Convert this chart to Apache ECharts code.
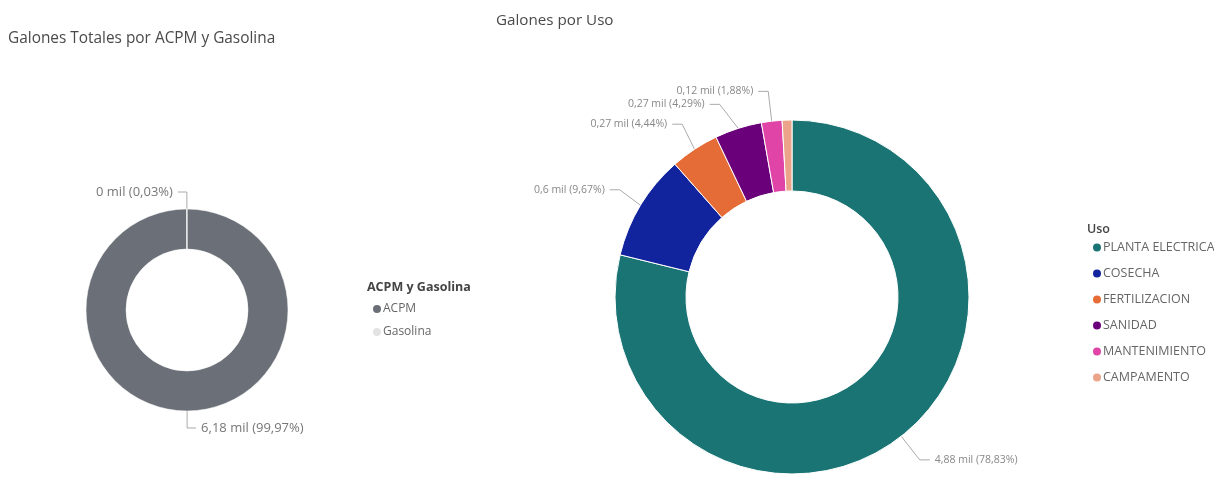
<!DOCTYPE html>
<html>
<head>
<meta charset="utf-8">
<script src="https://cdn.jsdelivr.net/npm/echarts@6/dist/echarts.min.js"></script>
<style>
html,body{margin:0;padding:0;background:#fff;}
#chart{width:1214px;height:481px;}
</style>
</head>
<body>
<div id="chart"></div>
<script>
// ---- data ----
const tipoCategorias = ['ACPM', 'Gasolina'];
const tipoGalones = [6180, 1.85];
const usoCategorias = ['PLANTA ELECTRICA', 'COSECHA', 'FERTILIZACION', 'SANIDAD', 'MANTENIMIENTO', 'CAMPAMENTO'];
const usoGalones = [4880, 598.6, 274.8, 265.6, 116.4, 55.1];

const tipoColores = ['#6b7078', '#e3e3e3'];
const usoColores = ['#1b7474', '#12239e', '#e66c37', '#6b007b', '#e044a7', '#eba48a'];

function fmtMil(v) {
  const n = Math.round(v / 10) / 100;
  return String(n).replace('.', ',') + ' mil';
}
function fmtPct(v, total) {
  return (v / total * 100).toFixed(2).replace('.', ',') + '%';
}
const tipoTotal = tipoGalones.reduce((a, b) => a + b, 0);
const usoTotal = usoGalones.reduce((a, b) => a + b, 0);

const chart = echarts.init(document.getElementById('chart'));
const font = '"Open Sans"';
const labelFont = '"Open Sans"';

chart.setOption({
  animation: false,
  title: [
    { text: 'Galones Totales por ACPM y Gasolina', left: 3, top: 26,
      textStyle: { fontFamily: font, fontSize: 15.4, fontWeight: 'normal', color: '#4a4a4a' } },
    { text: 'Galones por Uso', left: 491, top: 8,
      textStyle: { fontFamily: font, fontSize: 15.2, fontWeight: 'normal', color: '#4a4a4a' } },
    { text: 'ACPM y Gasolina', left: 362, top: 276,
      textStyle: { fontFamily: labelFont, fontSize: 12.5, fontWeight: 'bold', color: '#444' } },
    { text: 'Uso', left: 1082, top: 218,
      textStyle: { fontFamily: labelFont, fontSize: 12.5, fontWeight: 600, color: '#444' } }
  ],
  legend: [
    { data: tipoCategorias, orient: 'vertical', left: 366, top: 298, itemGap: 11,
      icon: 'circle', itemWidth: 10, itemHeight: 10,
      textStyle: { fontFamily: labelFont, fontSize: 12, color: '#666', padding: [0, 0, 0, -4] } },
    { data: usoCategorias, orient: 'vertical', left: 1086, top: 236, itemGap: 13,
      icon: 'circle', itemWidth: 10, itemHeight: 10,
      textStyle: { fontFamily: labelFont, fontSize: 12.5, color: '#666', padding: [0, 0, 0, -4] } }
  ],
  series: [
    {
      type: 'pie', name: 'ACPM y Gasolina',
      center: [187, 310], radius: [61, 101], startAngle: 90, clockwise: true,
      color: tipoColores,
      itemStyle: { borderColor: '#fff', borderWidth: 0.5 },
      label: {
        fontFamily: labelFont, fontSize: 13, color: '#777',
        formatter: p => fmtMil(p.value) + ' (' + fmtPct(p.value, tipoTotal) + ')'
      },
      labelLine: { length: 17, length2: 9, lineStyle: { color: '#aaa', width: 1 } },
      data: tipoCategorias.map((c, i) => ({ name: c, value: tipoGalones[i] }))
    },
    {
      type: 'pie', name: 'Uso',
      center: [792, 297], radius: [106, 177], startAngle: 90, clockwise: true,
      color: usoColores, minShowLabelAngle: 4,
      itemStyle: { borderColor: '#fff', borderWidth: 1 },
      label: {
        fontFamily: labelFont, fontSize: 10.5, color: '#888',
        formatter: p => fmtMil(p.value) + ' (' + fmtPct(p.value, usoTotal) + ')'
      },
      labelLine: { length: 30, length2: 10, lineStyle: { color: '#aaa', width: 1 } },
      data: usoCategorias.map((c, i) => ({ name: c, value: usoGalones[i] }))
    }
  ]
});
</script>
</body>
</html>
